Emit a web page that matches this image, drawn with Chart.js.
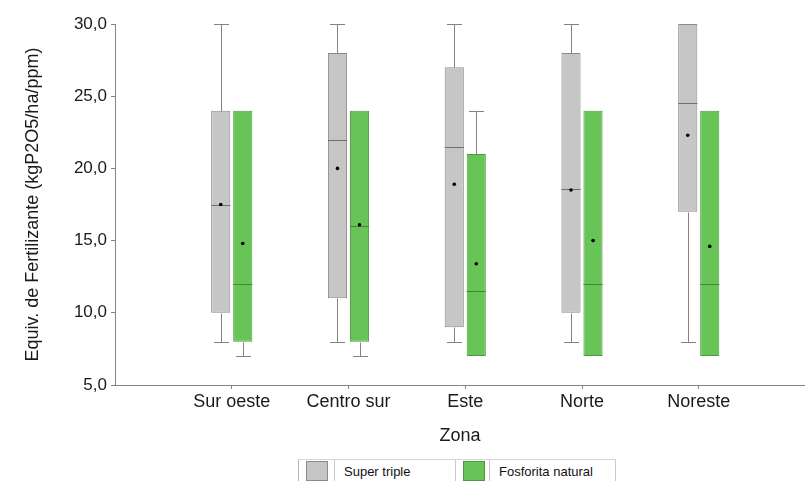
<!DOCTYPE html>
<html><head><meta charset="utf-8">
<script src="https://cdn.jsdelivr.net/npm/chart.js@4.4.0/dist/chart.umd.min.js"></script>
<style>
html,body{margin:0;padding:0;background:#fff;overflow:hidden;}
#wrap{position:relative;width:805px;height:481px;background:#fff;}
#c{position:absolute;left:0;top:0;}
#legend{position:absolute;left:298px;top:459px;height:23px;display:flex;align-items:stretch;font-family:'Liberation Sans',Arial,sans-serif;font-size:13px;color:#111;border-left:1px solid #b8b8b8;border-top:1px solid #d8d8d8;}
.sw{width:22px;height:20px;margin-top:1px;box-sizing:border-box;}
.lt{border-left:1px solid #c8c8c8;border-right:1px solid #c8c8c8;padding:4px 0 0 9px;box-sizing:border-box;}
</style></head>
<body><div id="wrap"><canvas id="c" width="805" height="458"></canvas><div id="legend"></div></div>
<script>
const categories = ['Sur oeste','Centro sur','Este','Norte','Noreste'];
const seriesNames = ['Super triple','Fosforita natural'];
// Super triple
const stMin  = [8, 8, 8, 8, 8];
const stQ1   = [10, 11, 9, 10, 17];
const stMed  = [17.5, 22, 21.5, 18.6, 24.5];
const stQ3   = [24, 28, 27, 28, 30];
const stMax  = [30, 30, 30, 30, 30];
const stMean = [17.5, 20, 18.9, 18.5, 22.3];
// Fosforita natural
const fnMin  = [7, 7, 7, 7, 7];
const fnQ1   = [8, 8, 7, 7, 7];
const fnMed  = [12, 16, 11.5, 12, 12];
const fnQ3   = [24, 24, 21, 24, 24];
const fnMax  = [24, 24, 24, 24, 24];
const fnMean = [14.8, 16.1, 13.4, 15, 14.6];
const yTicks = [5, 10, 15, 20, 25, 30];

const FONT = "'Liberation Sans', Arial, sans-serif";
const axisColor = '#8c7e78';
const textColor = '#1a1a1a';
const fills = ['#c6c6c6', '#68c456'];
const borders = ['#8a8a8a', '#4b9a3f'];
const medColors = ['#6e6e6e', '#3d8a33'];
const stats = [
  {lo: stMin, q1: stQ1, med: stMed, q3: stQ3, hi: stMax, mean: stMean},
  {lo: fnMin, q1: fnQ1, med: fnMed, q3: fnQ3, hi: fnMax, mean: fnMean}
];

const boxExtras = {
  id: 'boxExtras',
  afterDatasetsDraw(chart) {
    const ctx = chart.ctx, ys = chart.scales.y;
    chart.data.datasets.forEach((ds, di) => {
      const meta = chart.getDatasetMeta(di);
      const st = stats[di];
      meta.data.forEach((bar, i) => {
        const x = Math.round(bar.x) + 0.5, w = bar.width;
        ctx.save();
        ctx.lineWidth = 1;
        ctx.strokeStyle = axisColor;
        const cap = 7.5;
        if (st.hi[i] > st.q3[i]) {
          const y1 = Math.round(ys.getPixelForValue(st.q3[i])) + 0.5, y2 = Math.round(ys.getPixelForValue(st.hi[i])) + 0.5;
          ctx.beginPath(); ctx.moveTo(x, y1); ctx.lineTo(x, y2);
          ctx.moveTo(x - cap, y2); ctx.lineTo(x + cap, y2); ctx.stroke();
        }
        if (st.lo[i] < st.q1[i]) {
          const y1 = Math.round(ys.getPixelForValue(st.q1[i])) + 0.5, y2 = Math.round(ys.getPixelForValue(st.lo[i])) + 0.5;
          ctx.beginPath(); ctx.moveTo(x, y1); ctx.lineTo(x, y2);
          ctx.moveTo(x - cap, y2); ctx.lineTo(x + cap, y2); ctx.stroke();
        }
        const ym = Math.round(ys.getPixelForValue(st.med[i])) + 0.5;
        ctx.strokeStyle = medColors[di];
        ctx.beginPath(); ctx.moveTo(bar.x - w / 2, ym); ctx.lineTo(bar.x + w / 2, ym); ctx.stroke();
        const yMean = ys.getPixelForValue(st.mean[i]);
        ctx.fillStyle = '#000';
        ctx.beginPath(); ctx.arc(bar.x, yMean, 1.8, 0, Math.PI * 2); ctx.fill();
        ctx.restore();
      });
    });
  }
};

const datasets = stats.map((st, di) => ({
  label: seriesNames[di],
  data: categories.map((c, i) => ({x: i + 1, y: [st.q1[i], st.q3[i]]})),
  backgroundColor: fills[di],
  borderColor: borders[di],
  borderWidth: 1,
  borderSkipped: false,
  categoryPercentage: 0.377,
  barPercentage: 0.87
}));

new Chart(document.getElementById('c'), {
  type: 'bar',
  data: {datasets},
  plugins: [boxExtras],
  options: {
    responsive: false,
    animation: false,
    layout: {padding: {top: 24, right: 0, left: 0, bottom: 0}},
    plugins: {legend: {display: false}, tooltip: {enabled: false}},
    scales: {
      x: {
        type: 'linear', min: 0, max: 5.91, offset: false,
        afterBuildTicks: s => { s.ticks = categories.map((c, i) => ({value: i + 1})); },
        afterFit: s => { s.height = 73; },
        ticks: {callback: v => categories[v - 1] || '', font: {size: 18, family: FONT}, color: textColor, padding: 2, maxRotation: 0, autoSkip: false},
        grid: {display: true, offset: false, drawOnChartArea: false, drawTicks: true, tickLength: 4, color: axisColor},
        border: {display: true, color: axisColor, width: 1},
        title: {display: true, text: 'Zona', font: {size: 18, family: FONT}, color: textColor, padding: {top: 0, bottom: 11}}
      },
      y: {
        min: 5, max: 30,
        afterBuildTicks: s => { s.ticks = yTicks.map(v => ({value: v})); },
        afterFit: s => { s.width = 115; },
        ticks: {callback: v => v.toFixed(1).replace('.', ','), font: {size: 17, family: FONT}, color: textColor, padding: 4},
        grid: {display: true, drawOnChartArea: false, drawTicks: true, tickLength: 4, color: axisColor},
        border: {display: true, color: axisColor, width: 1},
        title: {display: true, text: 'Equiv. de Fertilizante (kgP2O5/ha/ppm)', font: {size: 18, family: FONT}, color: textColor, padding: {top: 22, bottom: 0}}
      }
    }
  }
});

// HTML legend built from the datasets
const lg = document.getElementById('legend');
const swMargins = [[7, 6], [7, 4]];
const textWidths = [122, 127];
seriesNames.forEach((n, i) => {
  const sw = document.createElement('div');
  sw.className = 'sw';
  sw.style.background = fills[i];
  sw.style.border = '1px solid ' + borders[i];
  sw.style.marginLeft = swMargins[i][0] + 'px';
  sw.style.marginRight = swMargins[i][1] + 'px';
  const t = document.createElement('div');
  t.className = 'lt';
  t.style.width = textWidths[i] + 'px';
  t.textContent = n;
  lg.appendChild(sw); lg.appendChild(t);
});
</script></body></html>
